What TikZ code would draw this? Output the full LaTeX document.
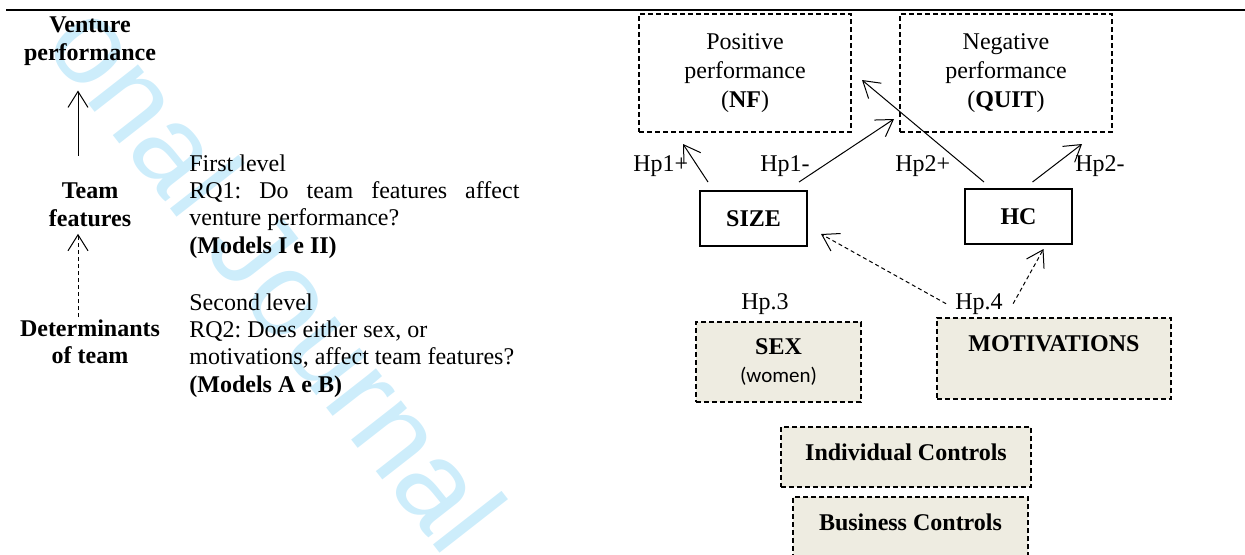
\documentclass[tikz,border=0pt]{standalone}
\usepackage{fontspec}
\setmainfont{Liberation Serif}
\newfontfamily\calibri{Carlito}
\newfontfamily\wmfont{Liberation Sans}
\usepackage{tikz}
\usetikzlibrary{arrows.meta}
\usetikzlibrary{positioning}
\usetikzlibrary{calc}
\definecolor{tanbg}{RGB}{238,236,225}
\definecolor{wmblue}{RGB}{205,237,251}
\hyphenpenalty=10000
\exhyphenpenalty=10000
\tolerance=10000
\frenchspacing
\tikzstyle{perfbox} = [draw, dash pattern=on 2.5pt off 1.5pt, line width=1pt, minimum width=106pt, minimum height=59pt, align=center, font=\fontsize{12}{14.5}\selectfont]
\tikzstyle{featbox} = [draw, line width=1pt, minimum width=53.5pt, minimum height=27.5pt, font=\fontsize{12}{13.7}\selectfont\bfseries]
\tikzstyle{detbox} = [draw, fill=tanbg, dash pattern=on 2.5pt off 1.5pt, line width=1pt, font=\fontsize{12}{14}\selectfont\bfseries]
\tikzstyle{arrow} = [line width=0.5pt, -{Straight Barb[length=8pt,width=10pt]}]
\tikzstyle{darrow} = [arrow, dash pattern=on 2pt off 1.5pt]
\begin{document}
\begin{tikzpicture}[x=0.5pt, y=-0.5pt, every node/.style={font=\fontsize{12}{13.7}\selectfont, inner sep=0pt}]
	\useasboundingbox (0,0) rectangle (1245,554);
	
		% Watermark
		\node[text=wmblue, font=\wmfont\fontsize{60}{60}\selectfont, rotate=-52, anchor=base east] (wm) at (445,560) {onal Journal};
		\draw[line width=1pt] (6,10) -- (1245,10);
		
		% Levels
		\node[font=\fontsize{12}{13.7}\selectfont\bfseries, align=center] (venture) at (90,41) {Venture\\performance};
		\node[font=\fontsize{12}{13.7}\selectfont\bfseries, align=center] (feat) at (90,204.7) {Team\\features};
		\node[font=\fontsize{12}{13.7}\selectfont\bfseries, align=center] (determ) at (90,341.7) {Determinants\\of team};
		
		% Research questions
		\node[text width=165pt, align=justify, anchor=base west] (rq1) at (189,171) {First level\\RQ1: Do team features affect venture performance?\\\textbf{(Models I e II)}};
		\node[text width=165pt, align=justify, anchor=base west] (rq2) at (189,310) {Second level\\RQ2: Does either sex, or\\motivations, affect team features?\\\textbf{(Models A e B)}};
		
		% Performance
		\node[perfbox] (nf) at (745,73) {Positive\\performance\\(\textbf{NF})};
		\node[perfbox, right=23.5pt of nf] (quit) {Negative\\performance\\(\textbf{QUIT})};
		
		% Team features
		\node[featbox] (size) at (753.5,218.5) {SIZE};
		\node[featbox, right=78pt of size, yshift=1pt] (hc) {HC};
		
		% Hypotheses
		\node[anchor=base west] (hp1p) at (633,171) {Hp1+};
		\node[anchor=base west] (hp1m) at (760,171) {Hp1-};
		\node[anchor=base west] (hp2p) at (895,171) {Hp2+};
		\node[anchor=base west] (hp2m) at (1075,171) {Hp2-};
		\node[anchor=base west] (hp3) at (741,309) {Hp.3};
		\node[anchor=base west] (hp4) at (955,309) {Hp.4};
		
		% Determinants and controls
		\node[detbox, minimum width=82.5pt, minimum height=40pt, align=center] (sex) at (778.5,362) {SEX\\{\calibri\mdseries\fontsize{10.5}{14}\selectfont (women)}};
		\node[detbox, minimum width=117pt, text height=16.5pt, text depth=24pt] (motiv) at (1054,358.5) {MOTIVATIONS};
		\node[detbox, minimum width=125pt, text height=16.5pt, text depth=13.5pt] (indiv) at (906,457) {Individual Controls};
		\node[detbox, minimum width=117.5pt, text height=16.5pt, text depth=16pt, below=4pt of indiv, xshift=2.25pt] (busin) {Business Controls};
		
		% Connect the nodes
		\draw[arrow] ($(feat.north)+(-12,-27)$) -- ($(venture.south)+(-12,25)$);
		\draw[darrow] ($(determ.north)+(-12,-2)$) -- ($(feat.south)+(-12,7)$);
		\draw[arrow] ($(size.north west)+(9,-8)$) -- ($(nf.south west)+(45,11)$);
		\draw[arrow] ($(size.north east)+(-9,-8)$) -- ($(quit.south west)+(-5,-14)$);
		\draw[arrow] ($(hc.north west)+(20,-6)$) -- ($(nf.east)+(10,7)$);
		\draw[arrow] ($(hc.north)+(14,-6)$) -- ($(quit.south)+(76,11)$);
		\draw[darrow] ($(hp4.west)+(-9,0)$) -- ($(size.south east)+(13,-13)$);
		\draw[darrow] ($(hp4.east)+(10,0)$) -- ($(hc.south)+(25,4)$);
	
	\end{tikzpicture}
\end{document}
